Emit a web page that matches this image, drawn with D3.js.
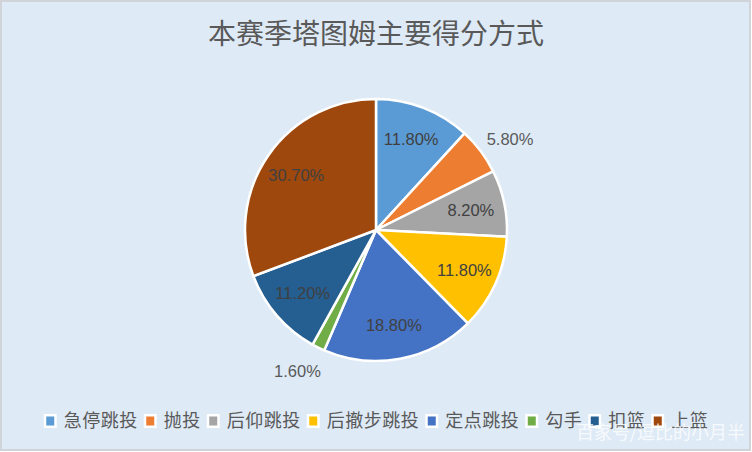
<!DOCTYPE html>
<html>
<head>
<meta charset="utf-8">
<script src="https://cdn.jsdelivr.net/npm/d3@7"></script>
<style>
  body { margin: 0; background: #fff; }
  svg { display: block; }
</style>
</head>
<body>
<script>
const categories = ['急停跳投', '抛投', '后仰跳投', '后撤步跳投', '定点跳投', '勾手', '扣篮', '上篮'];
const values = [11.8, 5.8, 8.2, 11.8, 18.8, 1.6, 11.2, 30.7];
const colors = ['#5B9BD5', '#ED7D31', '#A5A5A5', '#FFC000', '#4472C4', '#70AD47', '#255E91', '#9E480E'];
const title = '本赛季塔图姆主要得分方式';
const watermark = '百家号/逗比的小月半';

const width = 752;
const height = 452;
const cx = 376, cy = 230, radius = 131;
const cjk = '"Noto Sans CJK SC", sans-serif';
const latin = '"Liberation Sans", Arial, sans-serif';

const svg = d3.select('body').append('svg')
  .attr('width', width)
  .attr('height', height);

svg.append('rect')
  .attr('x', 1).attr('y', 1)
  .attr('width', width - 3).attr('height', height - 3)
  .attr('fill', '#DEEAF6')
  .attr('stroke', '#D0D4D8')
  .attr('stroke-width', 2);

svg.append('text')
  .attr('x', 376).attr('y', 44)
  .attr('text-anchor', 'middle')
  .style('font-family', cjk)
  .style('font-size', '28px')
  .attr('fill', '#595959')
  .text(title);

const data = categories.map((c, i) => ({ name: c, value: values[i], color: colors[i] }));

const pie = d3.pie().sort(null).value(d => d.value);
const arcs = pie(data);
const arc = d3.arc().innerRadius(0).outerRadius(radius);

const g = svg.append('g').attr('transform', `translate(${cx},${cy})`);

g.selectAll('path')
  .data(arcs)
  .enter()
  .append('path')
  .attr('d', arc)
  .attr('fill', d => d.data.color)
  .attr('stroke', '#fff')
  .attr('stroke-width', 2.5)
  .attr('stroke-linejoin', 'round');

// small slices get their label outside the pie
g.selectAll('text.lbl')
  .data(arcs)
  .enter()
  .append('text')
  .attr('class', 'lbl')
  .attr('transform', d => {
    const mid = (d.startAngle + d.endAngle) / 2;
    const outside = d.data.value < 7;
    const rr = outside ? radius + 31 : radius * 0.74;
    const a = outside ? mid + 0.05 : mid;
    return `translate(${Math.sin(a) * rr},${-Math.cos(a) * rr})`;
  })
  .attr('text-anchor', 'middle')
  .attr('dy', '0.35em')
  .style('font-family', latin)
  .style('font-size', '16.5px')
  .attr('fill', d => d.data.value < 7 ? '#595959' : '#404040')
  .text(d => d.data.value.toFixed(2) + '%');

// legend
const legend = svg.append('g').attr('transform', 'translate(0,421)');
const fs = 18;
const cw = 18.5;
let x = 0;
const items = [];
categories.forEach((c, i) => {
  items.push({ name: c, color: colors[i], x: x });
  x += 13 + 7 + c.length * cw + 6;
});
const total = x - 6;
const start = (width - total) / 2;

const item = legend.selectAll('g')
  .data(items)
  .enter()
  .append('g')
  .attr('transform', d => `translate(${d.x + start},0)`);

item.append('rect')
  .attr('x', 0).attr('y', -7)
  .attr('width', 13).attr('height', 14)
  .attr('fill', '#fff');
item.append('rect')
  .attr('x', 2.5).attr('y', -4.5)
  .attr('width', 8).attr('height', 9)
  .attr('fill', d => d.color);
item.append('text')
  .attr('x', 20)
  .attr('dy', '0.36em')
  .style('font-family', cjk)
  .style('font-size', fs + 'px')
  .style('letter-spacing', (cw - fs) + 'px')
  .attr('fill', '#595959')
  .text(d => d.name);

svg.append('text')
  .attr('x', 745).attr('y', 439)
  .attr('text-anchor', 'end')
  .style('font-family', cjk)
  .style('font-size', '18px')
  .attr('fill', '#fff')
  .attr('fill-opacity', 0.8)
  .text(watermark);
</script>
</body>
</html>
